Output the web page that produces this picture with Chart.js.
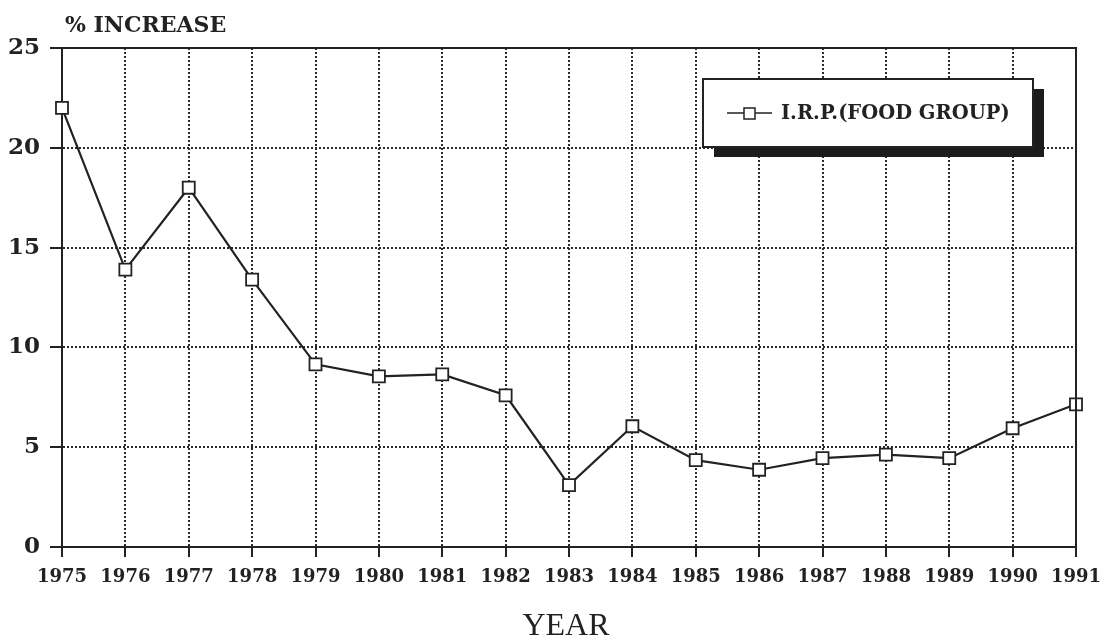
<!DOCTYPE html>
<html>
<head>
<meta charset="utf-8">
<script src="https://cdn.jsdelivr.net/npm/chart.js@4/dist/chart.umd.min.js"></script>
<style>
  html, body { margin: 0; padding: 0; background: #ffffff; }
  #wrap { width: 1105px; height: 640px; position: relative; }
</style>
</head>
<body>
<div id="wrap"><canvas id="c" width="1105" height="640"></canvas></div>
<script>
const years = ['1975','1976','1977','1978','1979','1980','1981','1982','1983','1984','1985','1986','1987','1988','1989','1990','1991'];
const irpFood = [22.0, 13.9, 18.0, 13.4, 9.15, 8.55, 8.65, 7.6, 3.1, 6.05, 4.35, 3.87, 4.45, 4.63, 4.45, 5.95, 7.15];
const seriesLabel = 'I.R.P.(FOOD GROUP)';
const yTitle = '% INCREASE';
const xTitle = 'YEAR';
const yMin = 0, yMax = 25, yStep = 5;

const INK = '#222222';
const SERIF_BOLD = "'DejaVu Serif', serif";

const framePlugin = {
  id: 'frame',
  afterDatasetsDraw(chart) {
    const {ctx, chartArea: a} = chart;
    ctx.save();
    ctx.strokeStyle = INK;
    ctx.lineWidth = 2;
    ctx.beginPath();
    ctx.moveTo(a.left - 12, a.top);
    ctx.lineTo(a.right, a.top);
    ctx.lineTo(a.right, a.bottom + 10);
    ctx.stroke();
    ctx.restore();
  },
  afterDraw(chart) {
    const {ctx} = chart;
    ctx.save();
    ctx.fillStyle = INK;
    ctx.textAlign = 'left';
    ctx.textBaseline = 'alphabetic';
    ctx.font = "bold 22px " + SERIF_BOLD;
    ctx.fillText(yTitle, 65, 32);
    ctx.textAlign = 'center';
    ctx.font = "32px 'Liberation Serif', serif";
    ctx.fillText(xTitle, 566, 635);

    // legend with drop shadow
    const lx = 703, ly = 79, lw = 330, lh = 68;
    ctx.fillStyle = '#1c1c1c';
    ctx.fillRect(lx + 11, ly + 10, lw, lh);
    ctx.fillStyle = '#ffffff';
    ctx.fillRect(lx, ly, lw, lh);
    ctx.strokeStyle = INK;
    ctx.lineWidth = 2;
    ctx.strokeRect(lx, ly, lw, lh);
    const cy = ly + 34;
    ctx.lineWidth = 1.5;
    ctx.beginPath();
    ctx.moveTo(lx + 24, cy);
    ctx.lineTo(lx + 69, cy);
    ctx.stroke();
    ctx.fillStyle = '#ffffff';
    ctx.fillRect(lx + 41, cy - 5, 11, 11);
    ctx.strokeRect(lx + 41, cy - 5, 11, 11);
    ctx.fillStyle = INK;
    ctx.textAlign = 'left';
    ctx.textBaseline = 'middle';
    ctx.font = "bold 19.5px " + SERIF_BOLD;
    ctx.fillText(seriesLabel, lx + 78, cy + 1);
    ctx.restore();
  }
};

new Chart(document.getElementById('c'), {
  type: 'line',
  data: {
    labels: years,
    datasets: [{
      label: seriesLabel,
      data: irpFood,
      borderColor: INK,
      borderWidth: 2.2,
      tension: 0,
      fill: false,
      pointStyle: 'rect',
      pointRadius: 8.5,
      pointBorderWidth: 1.8,
      pointBorderColor: INK,
      pointBackgroundColor: '#ffffff'
    }]
  },
  options: {
    responsive: false,
    animation: false,
    devicePixelRatio: 1,
    layout: { padding: { left: 0, right: 29, top: 48, bottom: 0 } },
    plugins: {
      legend: { display: false },
      tooltip: { enabled: false },
      title: { display: false }
    },
    scales: {
      x: {
        type: 'category',
        offset: false,
        afterFit(scale) {
          scale.height = 93;
          scale.paddingLeft = 0;
          scale.paddingRight = 0;
        },
        grid: {
          color: '#2a2a2a',
          lineWidth: 2,
          drawTicks: true,
          tickLength: 10,
          tickColor: INK,
          tickWidth: 2
        },
        border: { display: true, color: INK, width: 2, dash: [2, 2] },
        ticks: {
          color: INK,
          padding: 10,
          maxRotation: 0,
          autoSkip: false,
          font: { family: SERIF_BOLD, size: 18, weight: 'bold' }
        }
      },
      y: {
        min: yMin,
        max: yMax,
        afterFit(scale) { scale.width = 62; },
        grid: {
          color: '#2a2a2a',
          lineWidth: 2,
          drawTicks: true,
          tickLength: 12,
          tickColor: INK,
          tickWidth: 2
        },
        border: { display: true, color: INK, width: 2, dash: [2, 2] },
        ticks: {
          stepSize: yStep,
          color: INK,
          padding: 10,
          font: { family: SERIF_BOLD, size: 23, weight: 'bold' }
        }
      }
    }
  },
  plugins: [framePlugin]
});
</script>
</body>
</html>
